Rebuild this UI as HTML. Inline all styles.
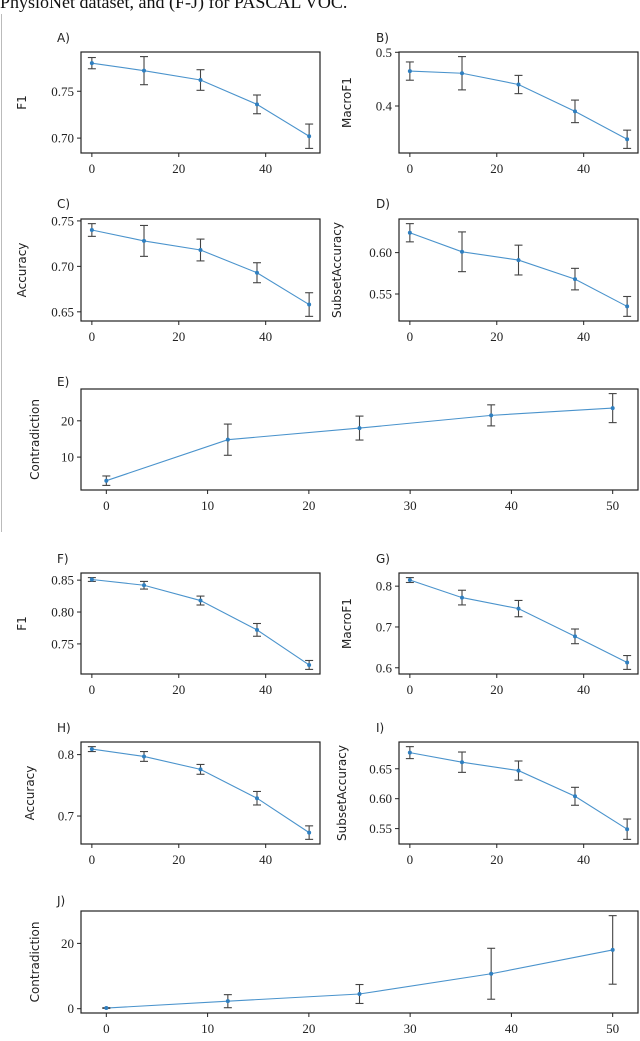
<!DOCTYPE html>
<html><head><meta charset="utf-8">
<style>
body{margin:0;background:#fff;width:640px;height:1041px;overflow:hidden;position:relative}
#cap{position:absolute;left:0;top:-8px;font-family:"Liberation Serif",serif;font-size:18px;color:#111;white-space:nowrap}
#vline{position:absolute;left:1px;top:14px;width:1px;height:518px;background:#bbb}
svg{position:absolute;left:0;top:0}
</style></head><body>
<div id="cap">PhysioNet dataset, and (F-J) for PASCAL VOC.</div>
<div id="vline"></div>
<svg id="fig" width="640" height="1041"></svg>
<script>
const xValues=[0,12,25,38,50];
const aVals=[0.780,0.772,0.762,0.736,0.702]; const aErr=[0.006,0.015,0.011,0.010,0.013]; const aTicks=[0.70,0.75];
const bVals=[0.465,0.461,0.440,0.390,0.338]; const bErr=[0.017,0.031,0.017,0.021,0.017]; const bTicks=[0.4,0.5];
const cVals=[0.740,0.728,0.718,0.693,0.658]; const cErr=[0.007,0.017,0.012,0.011,0.013]; const cTicks=[0.65,0.70,0.75];
const dVals=[0.624,0.601,0.591,0.568,0.535]; const dErr=[0.011,0.024,0.018,0.013,0.012]; const dTicks=[0.55,0.60];
const eVals=[3.5,14.8,18.0,21.5,23.5]; const eErr=[1.3,4.3,3.3,2.9,4.0]; const eTicks=[10,20];
const fVals=[0.851,0.842,0.818,0.772,0.717]; const fErr=[0.003,0.006,0.007,0.010,0.007]; const fTicks=[0.75,0.80,0.85];
const gVals=[0.815,0.772,0.745,0.677,0.613]; const gErr=[0.006,0.018,0.020,0.018,0.017]; const gTicks=[0.6,0.7,0.8];
const hVals=[0.809,0.797,0.776,0.729,0.673]; const hErr=[0.004,0.008,0.008,0.011,0.011]; const hTicks=[0.7,0.8];
const iVals=[0.677,0.661,0.647,0.604,0.549]; const iErr=[0.010,0.017,0.016,0.015,0.017]; const iTicks=[0.55,0.60,0.65];
const jVals=[0.2,2.3,4.5,10.7,18.0]; const jErr=[0.1,2.0,2.9,7.8,10.5]; const jTicks=[0,20];
const smallXTicks=[0,20,40]; const wideXTicks=[0,10,20,30,40,50];

const NS='http://www.w3.org/2000/svg';
const fig=document.getElementById('fig');
function mk(tag,attrs,parent,txt){const e=document.createElementNS(NS,tag);for(const k in attrs)e.setAttribute(k,attrs[k]);if(txt!==undefined)e.textContent=txt;(parent||fig).appendChild(e);return e;}
function fmt(t,ticks){const s=ticks.map(v=>String(v));let dec=0;ticks.forEach(v=>{const p=String(v).split('.')[1];if(p)dec=Math.max(dec,p.length)});
 // matplotlib style: 0.70 when mixing
 if(ticks.some(v=>Math.round(v*100)%10!==0)&&dec<2)dec=2;return t.toFixed(dec);}
function panel(id,letter,L,R,T,B,vals,errs,yticks,xticks,ylabel,ylabX,letX,letY){
 const g=mk('g',{},fig);
 
 
 let lo=Infinity,hi=-Infinity;vals.forEach((v,i)=>{lo=Math.min(lo,v-errs[i]);hi=Math.max(hi,v+errs[i]);});
 const m=(hi-lo)*0.05;lo-=m;hi+=m;
 const sx=x=>L+(x+2.5)/55*(R-L);
 const sy=y=>B-(y-lo)/(hi-lo)*(B-T);
 const box=mk('rect',{x:L,y:T,width:R-L,height:B-T,fill:'none',stroke:'#222','stroke-width':1.2},g);
 
 
 xticks.forEach(t=>{const x=sx(t);mk('line',{x1:x,x2:x,y1:B,y2:B+4,stroke:'#222','stroke-width':1},g);
  const tl=mk('text',{x:x,y:B+20,'text-anchor':'middle','font-family':'Liberation Serif, serif','font-size':13,fill:'#222'},g,String(t));
  
  });
 yticks.forEach(t=>{const y=sy(t);if(y<T-1||y>B+1)return;mk('line',{x1:L-4,x2:L,y1:y,y2:y,stroke:'#222','stroke-width':1},g);
  const tl=mk('text',{x:L-7,y:y+4.5,'text-anchor':'end','font-family':'Liberation Serif, serif','font-size':13,fill:'#222'},g,fmt(t,yticks));
  
  });
 const yl=mk('text',{x:ylabX,y:(T+B)/2,transform:`rotate(-90 ${ylabX} ${(T+B)/2})`,'text-anchor':'middle','dominant-baseline':'central','font-family':'DejaVu Sans, sans-serif','font-size':12,fill:'#222'},g,ylabel);
 
 
 const lt=mk('text',{x:letX,y:letY,'font-family':'DejaVu Sans, sans-serif','font-size':12,fill:'#222'},g,letter+')');
 
 
 const pts=xValues.map((x,i)=>sx(x)+','+sy(vals[i])).join(' ');
 const pl=mk('polyline',{points:pts,fill:'none',stroke:'#4a93cc','stroke-width':1.1},g);
 
 
 xValues.forEach((x,i)=>{const X=sx(x),y1=sy(vals[i]-errs[i]),y2=sy(vals[i]+errs[i]);
  const eb=mk('g',{stroke:'#444','stroke-width':1.1},g);
  
  
  mk('line',{x1:X,x2:X,y1:y1,y2:y2},eb);mk('line',{x1:X-4,x2:X+4,y1:y1,y2:y1},eb);mk('line',{x1:X-4,x2:X+4,y1:y2,y2:y2},eb);
  const c=mk('circle',{cx:X,cy:sy(vals[i]),r:2,fill:'#2f7fc0'},g);
  
  });
}
panel('a','A',81,320,52,153,aVals,aErr,aTicks,smallXTicks,'F1',22,57,42);
panel('b','B',399,638,52,153,bVals,bErr,bTicks,smallXTicks,'MacroF1',347,376,42);
panel('c','C',81,320,219,321,cVals,cErr,cTicks,smallXTicks,'Accuracy',22,57,208);
panel('d','D',399,638,219,321,dVals,dErr,dTicks,smallXTicks,'SubsetAccuracy',337,376,208);
panel('e','E',81,638,389,490,eVals,eErr,eTicks,wideXTicks,'Contradiction',35,57,386);
panel('f','F',81,320,573,674,fVals,fErr,fTicks,smallXTicks,'F1',22,57,563);
panel('g','G',399,638,573,674,gVals,gErr,gTicks,smallXTicks,'MacroF1',347,376,563);
panel('h','H',81,320,742,844,hVals,hErr,hTicks,smallXTicks,'Accuracy',30,57,732);
panel('i','I',399,638,742,844,iVals,iErr,iTicks,smallXTicks,'SubsetAccuracy',342,376,732);
panel('j','J',81,638,911,1013,jVals,jErr,jTicks,wideXTicks,'Contradiction',35,57,905);
</script>
</body></html>
